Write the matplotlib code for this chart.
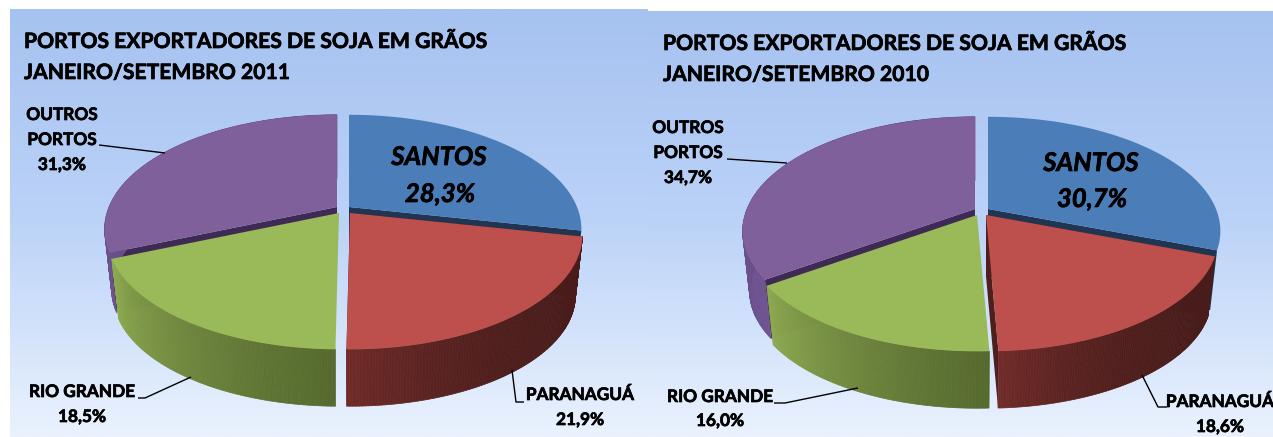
import numpy as np
import matplotlib
matplotlib.use('Agg')
import matplotlib.pyplot as plt
import matplotlib.patheffects as pe
from matplotlib.collections import PolyCollection
from matplotlib.colors import to_rgb

plt.rcParams['font.family'] = ['Lato', 'DejaVu Sans']

# Slices run clockwise from the top
ports = ['SANTOS', 'PARANAGUÁ', 'RIO GRANDE', 'OUTROS PORTOS']
share_2011 = [28.3, 21.9, 18.5, 31.3]
share_2010 = [30.7, 18.6, 16.0, 34.7]
title_line = 'PORTOS EXPORTADORES DE SOJA EM GRÃOS'
period_2011 = 'JANEIRO/SETEMBRO 2011'
period_2010 = 'JANEIRO/SETEMBRO 2010'

top_colors = ['#4b7eb9', '#bd4f4c', '#9aba59', '#7f609b']
wall_colors = [None, ('#481c1a', '#702b28'),
               ('#566a2e', '#8eaa50'), ('#6f5390', '#59427a')]
wall_power = [1, 3, 1.2, 1]
cut_colors = ['#1f3552', '#4f1f1d', None, '#3f2a55']
draw_order = [0, 3, 2, 1]

RX, RY, PERSP = 228, 110, 0.193
DROP, SHRINK = 61, 0.97

bold = [pe.withStroke(linewidth=0.5, foreground='black')]


def arc_points(apex, start, stop, scale=1.0, n=120):
    angle = 2 * np.pi * np.linspace(start, stop, n)
    u, v = np.sin(angle), np.cos(angle)
    d = 1 + PERSP * v
    return np.column_stack([apex[0] + scale * RX * u / d, apex[1] - scale * RY * v / d])


def pct(value):
    return f'{value:.1f}%'.replace('.', ',')


def draw_pie(ax, values, apexes):
    bounds = np.concatenate([[0], np.cumsum(values)]) / np.sum(values)
    # Back slices first, the front ones cover their cut faces
    for order, i in enumerate(draw_order):
        z = 2 + order
        start, stop = bounds[i], bounds[i + 1]
        apex = apexes[i]
        low = (apex[0], apex[1] + DROP)
        upper = arc_points(apex, start, stop)
        lower = arc_points(low, start, stop, SHRINK)

        if cut_colors[i]:
            for j in (0, -1):
                ax.fill([apex[0], upper[j, 0], lower[j, 0], low[0]],
                        [apex[1], upper[j, 1], lower[j, 1], low[1]],
                        color=cut_colors[i], lw=0, zorder=z)

        if wall_colors[i]:
            c0, c1 = np.array(to_rgb(wall_colors[i][0])), np.array(to_rgb(wall_colors[i][1]))
            quads, colors = [], []
            for k in range(len(upper) - 1):
                quads.append([upper[k], upper[k + 1], lower[k + 1], lower[k]])
                t = (k / (len(upper) - 2)) ** wall_power[i]
                colors.append(c0 + (c1 - c0) * t)
            ax.add_collection(PolyCollection(quads, facecolors=colors, edgecolors=colors,
                                             linewidths=0.5, zorder=z + 0.1))
        top = np.vstack([[apex], upper])
        ax.fill(top[:, 0], top[:, 1], color=top_colors[i], lw=0, zorder=z + 0.2)


def leader(ax, xs, ys):
    ax.plot(xs, ys, color='black', lw=1, zorder=8, solid_capstyle='butt')


def label(ax, x, y, text, size=12.4, **kw):
    ax.text(x, y, text, ha='center', va='center', fontsize=size, fontweight='bold',
            color='black', zorder=9, path_effects=bold, **kw)


def title(ax, x, y, text):
    ax.text(x, y, text, ha='left', va='center', fontsize=15.2, fontweight='bold',
            color='black', zorder=9, path_effects=bold)


fig = plt.figure(figsize=(12.73, 4.37), dpi=100)
ax = fig.add_axes([0, 0, 1, 1])
ax.axis('off')

# Panel backgrounds
gradient = np.linspace(0, 1, 256)[:, None]
panel_cmap = matplotlib.colors.LinearSegmentedColormap.from_list('panel', ['#a6c2f0', '#bcd3f8', '#eaf2fe'])
ax.imshow(gradient, cmap=panel_cmap, extent=[10, 648, 437, 9], aspect='auto', zorder=0)
ax.imshow(gradient, cmap=panel_cmap, extent=[648, 1273, 437, 11], aspect='auto', zorder=0)
ax.set_xlim(0, 1273)
ax.set_ylim(437, 0)

# 2011
draw_pie(ax, share_2011, [(349, 207), (350, 213), (339, 213), (337, 207)])
title(ax, 24, 42, title_line)
title(ax, 24, 73, period_2011)
label(ax, 439, 157, ports[0], size=18.5, style='italic')
label(ax, 440, 194, pct(share_2011[0]), size=18.5, style='italic')
label(ax, 62, 115, 'OUTROS')
label(ax, 62, 140, 'PORTOS')
label(ax, 62, 165, pct(share_2011[3]))
label(ax, 82, 392, ports[2])
label(ax, 82, 417, pct(share_2011[2]))
label(ax, 580, 395, ports[1])
label(ax, 580, 420, pct(share_2011[1]))
leader(ax, [99, 165], [145, 153])
leader(ax, [138, 145, 191], [398, 398, 377])
leader(ax, [524, 516, 512], [402, 402, 370])

# 2010
draw_pie(ax, share_2010, [(988, 209), (986, 215), (977, 215), (975, 209)])
title(ax, 663, 44, title_line)
title(ax, 663, 75, period_2010)
label(ax, 1091, 163, ports[0], size=18.5, style='italic')
label(ax, 1092, 199, pct(share_2010[0]), size=18.5, style='italic')
label(ax, 688, 128, 'OUTROS')
label(ax, 688, 153, 'PORTOS')
label(ax, 688, 178, pct(share_2010[3]))
label(ax, 720, 397, ports[2])
label(ax, 720, 421, pct(share_2010[2]))
label(ax, 1220, 402, ports[1])
label(ax, 1220, 427, pct(share_2010[1]))
leader(ax, [727, 787], [159, 163])
leader(ax, [774, 785, 858], [403, 403, 388])
leader(ax, [1167, 1158, 1142], [407, 407, 375])

fig.savefig('out.png', dpi=100)
